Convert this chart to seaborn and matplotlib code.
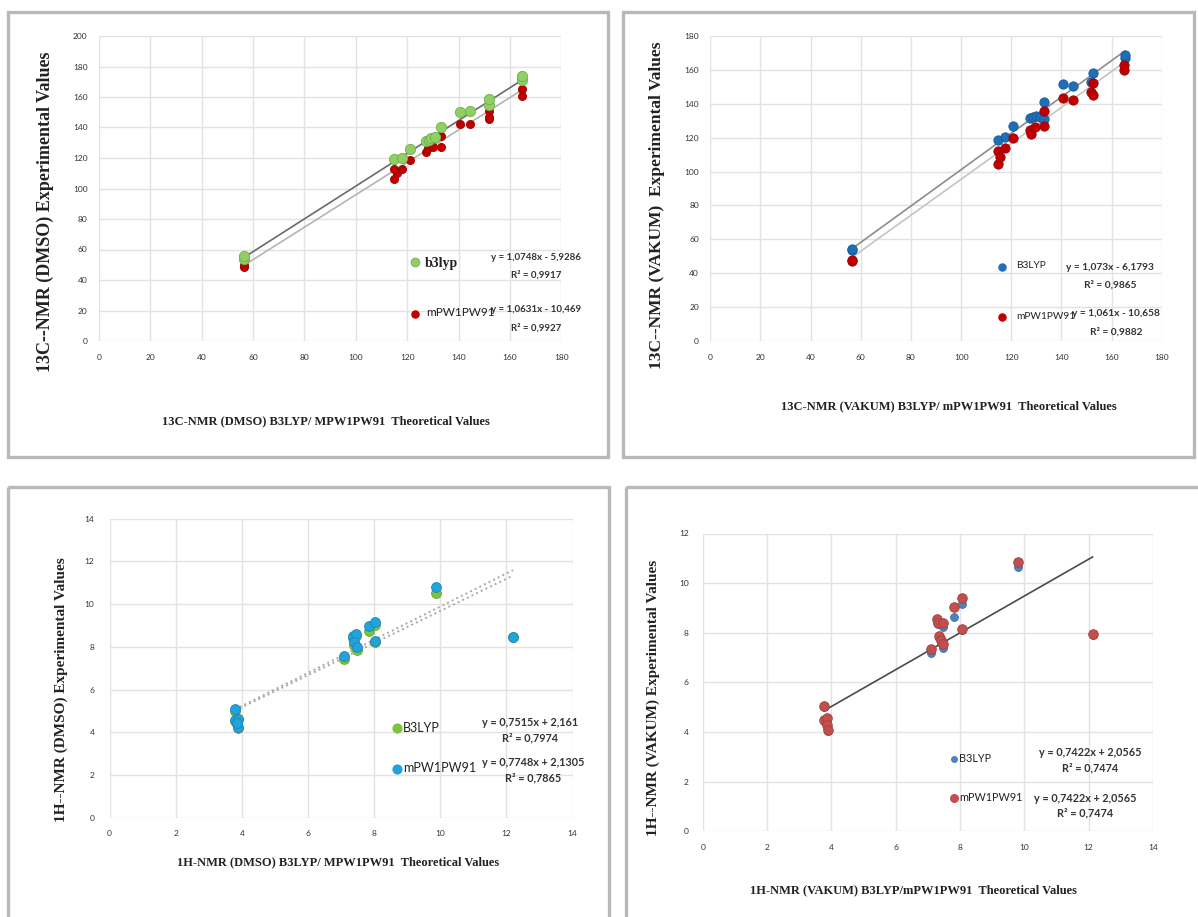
import numpy as np
import pandas as pd
import matplotlib
matplotlib.use("Agg")
import matplotlib.pyplot as plt
from matplotlib.patches import Rectangle
import seaborn as sns

W, H = 1198, 917

# ---- 13C NMR (DMSO) ----
c13_dmso_b3_x = [56.5, 56.5, 115, 117.9, 121, 127.4, 128.5, 129.4, 131, 133, 140.7, 144.3, 151.7, 152, 164.7, 164.7]
c13_dmso_b3_y = [54, 55.5, 119.3, 119.8, 126, 131, 132, 133, 134, 140.5, 150, 150.8, 155, 158.9, 171, 173.8]
c13_dmso_mpw_x = [56.5, 56.5, 115, 115, 116, 117.9, 121, 127.4, 128, 130, 133, 133, 140.7, 144.3, 151.7, 152, 152, 164.6, 164.6]
c13_dmso_mpw_y = [48.5, 50, 106.5, 112.5, 110, 113, 119, 123.8, 126.5, 127, 127, 134.5, 142.3, 142.3, 145.6, 147, 151, 160.4, 165.5]
c13_dmso_fit_b3 = [1.0748, -5.9286, 0.9917]
c13_dmso_fit_mpw = [1.0631, -10.469, 0.9927]

# ---- 13C NMR (VAKUM) ----
c13_vak_b3_x = [56.5, 56.5, 114.6, 117.7, 120.7, 127.3, 128.5, 130, 131.5, 133, 133, 140.6, 144.8, 151.7, 152.5, 165.2, 165.2]
c13_vak_b3_y = [53.5, 54.5, 118.6, 120.2, 127, 131.5, 132, 132.5, 132, 131, 141.3, 151.7, 150.5, 153, 158, 166.8, 168.8]
c13_vak_mpw_x = [56.5, 56.5, 114.6, 114.6, 115.5, 117.7, 120.7, 127.3, 127.8, 129.5, 133, 133, 140.6, 144.8, 151.7, 152.5, 152.5, 165, 165]
c13_vak_mpw_y = [47, 48, 104.3, 112, 108.5, 114, 119.7, 124.6, 122, 126.5, 127, 136, 143.7, 142.5, 147, 152.5, 145, 160, 163]
c13_vak_fit_b3 = [1.073, -6.1793, 0.9865]
c13_vak_fit_mpw = [1.061, -10.658, 0.9882]

# ---- 1H NMR (DMSO) ----
h1_dmso_x = [3.8, 3.8, 3.9, 3.9, 3.85, 7.08, 7.36, 7.46, 7.4, 7.49, 7.84, 8.04, 8.04, 9.88, 12.2]
h1_dmso_b3_y = [5.0, 4.55, 4.6, 4.2, 4.4, 7.45, 8.4, 8.5, 8.1, 7.85, 8.75, 9.0, 8.2, 10.5, 8.45]
h1_dmso_mpw_y = [5.08, 4.58, 4.64, 4.25, 4.45, 7.58, 8.52, 8.6, 8.2, 7.97, 8.99, 9.14, 8.29, 10.81, 8.47]
h1_dmso_fit_b3 = [0.7515, 2.161, 0.7974]
h1_dmso_fit_mpw = [0.7748, 2.1305, 0.7865]

# ---- 1H NMR (VAKUM) ----
h1_vak_x = [3.77, 3.77, 3.88, 3.85, 3.9, 7.09, 7.28, 7.33, 7.48, 7.36, 7.4, 7.48, 7.81, 8.05, 8.05, 9.81, 12.13]
h1_vak_b3_y = [5.0, 4.45, 4.5, 4.25, 4.05, 7.2, 8.45, 8.35, 8.25, 7.8, 7.6, 7.4, 8.65, 9.15, 8.1, 10.65, 7.9]
h1_vak_mpw_y = [5.05, 4.48, 4.55, 4.3, 4.08, 7.33, 8.54, 8.4, 8.38, 7.87, 7.7, 7.55, 9.05, 9.39, 8.15, 10.87, 7.95]
h1_vak_fit_b3 = [0.7422, 2.0565, 0.7474]
h1_vak_fit_mpw = [0.7422, 2.0565, 0.7474]

sns.set_theme(style="whitegrid")
plt.rcParams['font.family'] = ['Lato', 'DejaVu Sans']
SERIF = ['Liberation Serif', 'DejaVu Serif']

fig = plt.figure(figsize=(W / 100, H / 100), dpi=100)


def axes_px(x0, x1, y0, y1):
    return fig.add_axes([x0 / W, 1 - y1 / H, (x1 - x0) / W, (y1 - y0) / H])


def style(ax, xmax, xstep, ymax, ystep, ypad):
    ax.set_xlim(0, xmax)
    ax.set_ylim(0, ymax)
    ax.set_xticks(np.arange(0, xmax + 0.01, xstep))
    ax.set_yticks(np.arange(0, ymax + 0.01, ystep))
    ax.set_xticklabels([f"{v:g}" for v in ax.get_xticks()])
    ax.set_yticklabels([f"{v:g}" for v in ax.get_yticks()])
    ax.grid(True, color='#e2e2e2', lw=1)
    for s in ax.spines.values():
        s.set_visible(False)
    ax.tick_params(length=0, labelsize=6, labelcolor='#333333')
    ax.tick_params(axis='x', pad=9)
    ax.tick_params(axis='y', pad=ypad)
    ax.set_xlabel('')
    ax.set_ylabel('')
    ax.set_facecolor('white')


def points(ax, xs, ys, color, edge, size):
    df = pd.DataFrame({'theo': xs, 'exp': ys})
    sns.scatterplot(data=df, x='theo', y='exp', ax=ax, color=color, edgecolor=edge,
                    linewidth=0.6, s=size, zorder=3, legend=False)


def trend(ax, xs, fit, color, ls='-', lw=1.2):
    x = np.array([min(xs), max(xs)])
    ax.plot(x, fit[0] * x + fit[1], color=color, ls=ls, lw=lw, zorder=2)


def eq_text(fit):
    sign = '-' if fit[1] < 0 else '+'
    a = str(fit[0]).replace('.', ',')
    b = str(abs(fit[1])).replace('.', ',')
    return f"y = {a}x {sign} {b}", f"R² = {str(fit[2]).replace('.', ',')}"


# panel 1
ax1 = axes_px(98.8, 561.3, 36, 341)
trend(ax1, c13_dmso_b3_x, c13_dmso_fit_b3, '#6a6a6a')
trend(ax1, c13_dmso_mpw_x, c13_dmso_fit_mpw, '#b4b4b4')
points(ax1, c13_dmso_mpw_x, c13_dmso_mpw_y, '#c00000', '#a00000', 34)
points(ax1, c13_dmso_b3_x, c13_dmso_b3_y, '#8fcf66', '#6fb048', 55)
style(ax1, 180, 20, 200, 20, 8)

# panel 2
ax2 = axes_px(710.2, 1161.8, 36, 341)
trend(ax2, c13_vak_b3_x, c13_vak_fit_b3, '#8c8c8c')
trend(ax2, c13_vak_mpw_x, c13_vak_fit_mpw, '#c4c4c4')
points(ax2, c13_vak_b3_x, c13_vak_b3_y, '#1f6fb8', '#175a98', 45)
points(ax2, c13_vak_mpw_x, c13_vak_mpw_y, '#c00000', '#a00000', 45)
style(ax2, 180, 20, 180, 20, 8)

# panel 3
ax3 = axes_px(109.5, 572.5, 518.5, 817.8)
trend(ax3, h1_dmso_x, h1_dmso_fit_b3, '#a8a8a8', ':', 1.4)
trend(ax3, h1_dmso_x, h1_dmso_fit_mpw, '#a8a8a8', ':', 1.4)
points(ax3, h1_dmso_x, h1_dmso_b3_y, '#7dc242', '#62a32e', 50)
points(ax3, h1_dmso_x, h1_dmso_mpw_y, '#22a3dc', '#1a86b8', 50)
style(ax3, 14, 2, 14, 2, 11)

# panel 4
ax4 = axes_px(702.7, 1152.9, 533.5, 831.2)
trend(ax4, h1_vak_x, h1_vak_fit_mpw, '#4a4a4a')
points(ax4, h1_vak_x, h1_vak_b3_y, '#4f81bd', '#3f6ea6', 32)
points(ax4, h1_vak_x, h1_vak_mpw_y, '#c0504d', '#a8403d', 48)
style(ax4, 14, 2, 12, 2, 10)

# overlay in pixel coordinates: frames, titles, legends, equations
ov = fig.add_axes([0, 0, 1, 1], zorder=10)
ov.set_xlim(0, W)
ov.set_ylim(H, 0)
ov.axis('off')
ov.patch.set_alpha(0)

for x0, y0, w, h in [(8, 12, 600, 445), (623, 12, 571, 445), (8, 487, 601, 450), (626, 487, 600, 450)]:
    ov.add_patch(Rectangle((x0, y0), w, h, fill=False, ec='#b8b8b8', lw=2.4))

ylabels = ['13C--NMR (DMSO) Experimental Values', '13C--NMR (VAKUM)  Experimental Values',
           '1H--NMR (DMSO) Experimental Values', '1H--NMR (VAKUM) Experimental Values']
xlabels = ['13C-NMR (DMSO) B3LYP/ MPW1PW91  Theoretical Values',
           '13C-NMR (VAKUM) B3LYP/ mPW1PW91  Theoretical Values',
           '1H-NMR (DMSO) B3LYP/ MPW1PW91  Theoretical Values',
           '1H-NMR (VAKUM) B3LYP/mPW1PW91  Theoretical Values']
for (x, y, fs), t in zip([(45, 212, 13), (657, 205, 12.5), (61, 690, 11), (653, 698, 11)], ylabels):
    ov.text(x, y, t, rotation=90, ha='center', va='center', family=SERIF, weight='bold', fontsize=fs, color='#222222')
for (x, y), t in zip([(326, 421), (949, 406), (338, 862), (913, 890)], xlabels):
    ov.text(x, y, t, ha='center', va='center', family=SERIF, weight='bold', fontsize=9, color='#222222')

# legends
ov.scatter([414.5], [262], s=40, color='#8fcf66', edgecolor='#6fb048', lw=0.6)
ov.text(425, 264, 'b3lyp', family=SERIF, weight='bold', fontsize=10, va='center', color='#222222')
ov.scatter([414.5], [314], s=26, color='#c00000')
ov.text(426, 313, 'mPW1PW91', fontsize=8.5, va='center', color='#222222')

ov.scatter([1002], [266.5], s=26, color='#1f6fb8')
ov.text(1016, 266, 'B3LYP', fontsize=7.3, va='center', color='#222222')
ov.scatter([1002], [317], s=26, color='#c00000')
ov.text(1016, 316.5, 'mPW1PW91', fontsize=7.3, va='center', color='#222222')

ov.scatter([397], [728], s=40, color='#7dc242')
ov.text(403, 727.5, 'B3LYP', fontsize=9, va='center', color='#222222')
ov.scatter([397], [769], s=40, color='#22a3dc')
ov.text(403, 768.5, 'mPW1PW91', fontsize=9, va='center', color='#222222')

ov.scatter([954], [758.5], s=16, color='#4f81bd')
ov.text(959, 758, 'B3LYP', fontsize=7.8, va='center', color='#222222')
ov.scatter([954], [798], s=30, color='#c0504d')
ov.text(959, 797.5, 'mPW1PW91', fontsize=7.8, va='center', color='#222222')

# equations
for (cx, y1, y2, fs), fit in zip([(536, 258, 275, 7), (536, 310, 328, 7),
                                  (1110, 268, 285, 7.3), (1116, 314, 332, 7.3),
                                  (530, 722, 738, 7.8), (533, 763, 778, 7.8),
                                  (1090, 753, 768, 7.8), (1085, 798, 813, 7.8)],
                                 [c13_dmso_fit_b3, c13_dmso_fit_mpw, c13_vak_fit_b3, c13_vak_fit_mpw,
                                  h1_dmso_fit_b3, h1_dmso_fit_mpw, h1_vak_fit_b3, h1_vak_fit_mpw]):
    e, r = eq_text(fit)
    ov.text(cx, y1, e, ha='center', va='center', fontsize=fs, weight='bold', color='#333333')
    ov.text(cx, y2, r, ha='center', va='center', fontsize=fs, weight='bold', color='#333333')

fig.savefig('out.png', dpi=100, facecolor='white')
